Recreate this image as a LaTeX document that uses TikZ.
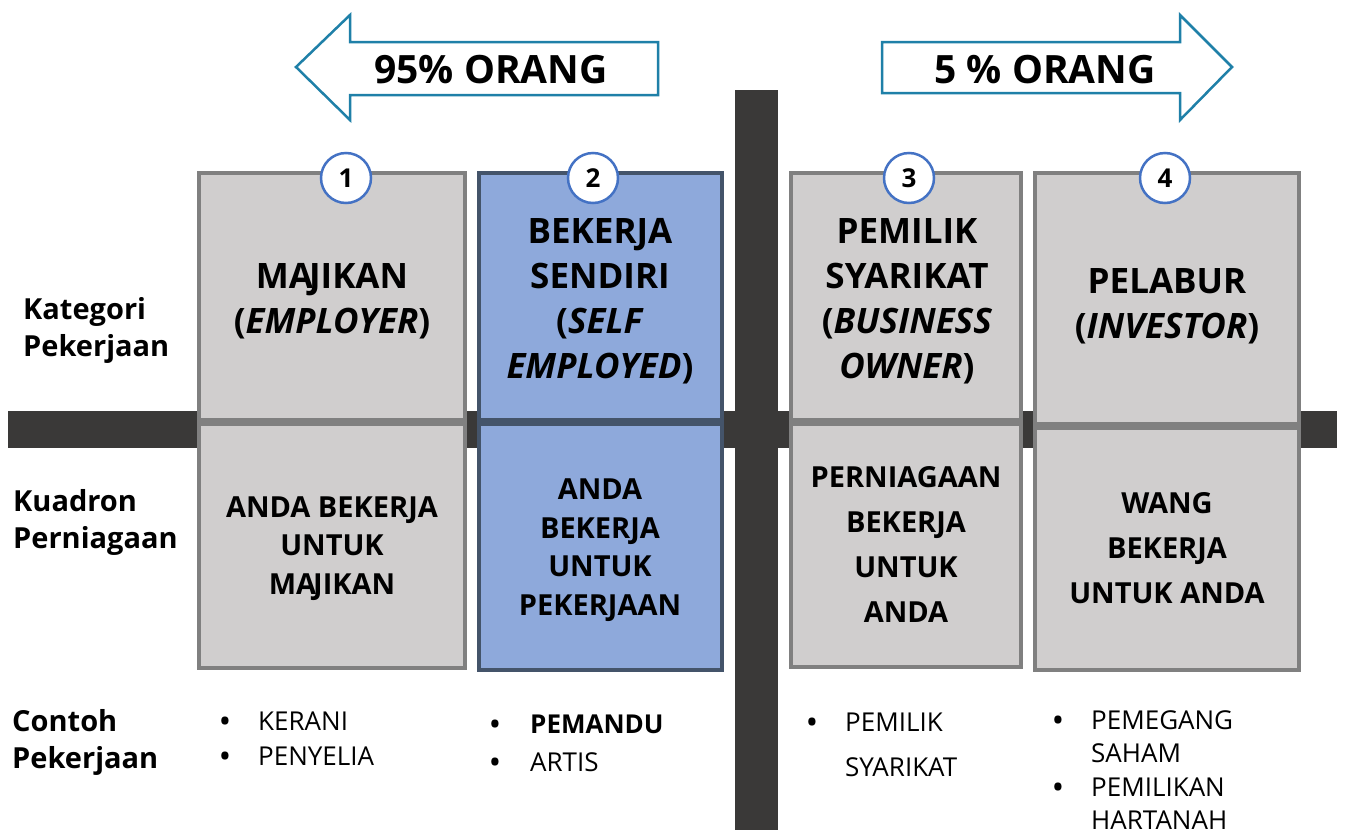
\documentclass[tikz,border=0pt]{standalone}
\usepackage{fontspec}
\setmainfont{Open Sans}
\definecolor{barc}{HTML}{3A3938}
\definecolor{greyfill}{HTML}{D0CECE}
\definecolor{greyline}{HTML}{808080}
\definecolor{bluefill}{HTML}{8EA9DB}
\definecolor{blueline}{HTML}{44546A}
\definecolor{circc}{HTML}{4472C4}
\definecolor{arrc}{HTML}{1F80A8}
\newcommand{\blt}{\textbf{•}}
\begin{document}
\begin{tikzpicture}[x=1pt,y=-1pt,
  greybox/.style={draw=greyline, fill=greyfill, line width=3.5pt},
  bluebox/.style={draw=blueline, fill=bluefill, line width=3.5pt},
  numc/.style={circle, draw=circc, fill=white, line width=2.5pt, minimum size=50pt, inner sep=0pt, font=\fontsize{26}{26}\selectfont\bfseries},
  arrowshape/.style={draw=arrc, fill=white, line width=2.5pt},
  arrtext/.style={inner sep=0pt, anchor=base, font=\fontsize{39}{39}\selectfont\bfseries},
  titletext/.style={inner sep=0pt, anchor=base, align=center, font=\fontsize{35}{45}\selectfont\bfseries},
  quadtext/.style={inner sep=0pt, anchor=base, align=center, font=\fontsize{29}{38.5}\selectfont\bfseries},
  quadtextb/.style={inner sep=0pt, anchor=base, align=center, font=\fontsize{29}{45}\selectfont\bfseries},
  sidetext/.style={inner sep=0pt, anchor=base west, align=left, font=\fontsize{29}{37}\selectfont\bfseries},
  listtext/.style={inner sep=0pt, anchor=base west, font=\fontsize{26}{35}\selectfont},
]
\useasboundingbox (0,0) rectangle (1345,836);
% bars
\fill[barc] (8,411) rectangle (1337,448);
\fill[barc] (735,90) rectangle (778,830);
% arrows
\draw[arrowshape] (296,67) -- (350,15) -- (350,42) -- (658,42) -- (658,95) -- (350,95) -- (350,120) -- cycle;
\node[arrtext] (a95) at (491,83) {95\% ORANG};
\draw[arrowshape] (1232,67) -- (1180,15) -- (1180,42) -- (882,42) -- (882,93) -- (1180,93) -- (1180,120) -- cycle;
\node[arrtext] (a5) at (1045,83) {5 \% ORANG};
% boxes
\draw[greybox] (199,173) rectangle (465,420);
\draw[greybox] (199,424) rectangle (465,668);
\draw[bluebox] (479,173) rectangle (722,420);
\draw[bluebox] (479,424) rectangle (722,670);
\draw[greybox] (791,173) rectangle (1021,420);
\draw[greybox] (791,424) rectangle (1021,667);
\draw[greybox] (1035,173) rectangle (1299,424);
\draw[greybox] (1035,428) rectangle (1299,670);
% numbers
\node[numc] (n1) at (346,178) {1};
\node[numc] (n2) at (593,178) {2};
\node[numc] (n3) at (909,178) {3};
\node[numc] (n4) at (1165,178) {4};
% titles (anchor base = last line)
\node[titletext] (t1) at (332,333) {MA\kern-4ptJIKAN\\(\textit{EMPLOYER})};
\node[titletext] (t2) at (600,378) {BEKERJA\\SENDIRI\\(\textit{SELF}\\\textit{EMPLOYED})};
\node[titletext] (t3) at (907,378) {PEMILIK\\SYARIKAT\\(\textit{BUSINESS}\\\textit{OWNER})};
\node[titletext] (t4) at (1167,338) {PELABUR\\(\textit{INVESTOR})};
% quadrant texts
\node[quadtext] (q1) at (332,594) {ANDA BEKERJA\\UNTUK\\MA\kern-3ptJIKAN};
\node[quadtext] (q2) at (600,615) {ANDA\\BEKERJA\\UNTUK\\PEKERJAAN};
\node[quadtextb] (q3) at (906,622) {PERNIAGAAN\\BEKERJA\\UNTUK\\ANDA};
\node[quadtextb] (q4) at (1167,603) {WANG\\BEKERJA\\UNTUK ANDA};
% side labels
\node[sidetext] (s1) at (23,356) {Kategori\\Pekerjaan};
\node[sidetext] (s2) at (13,548) {Kuadron\\Perniagaan};
\node[sidetext] (s3) at (12,768) {Contoh\\Pekerjaan};
% lists
\node[listtext] (l1) at (220,730) {\fontsize{26}{35}\selectfont\begin{tabular}[t]{@{}p{38pt}@{}l@{}}\blt&KERANI\\\blt&PENYELIA\end{tabular}};
\node[listtext] (l2) at (490,733) {\fontsize{26}{38}\selectfont\begin{tabular}[t]{@{}p{40pt}@{}l@{}}\blt&\textbf{PEMANDU}\\\blt&ARTIS\end{tabular}};
\node[listtext] (l3) at (807,731) {\fontsize{26}{45}\selectfont\begin{tabular}[t]{@{}p{38pt}@{}l@{}}\blt&PEMILIK\\&SYARIKAT\end{tabular}};
\node[listtext] (l4) at (1053,729) {\fontsize{26}{33.5}\selectfont\begin{tabular}[t]{@{}p{38pt}@{}l@{}}\blt&PEMEGANG\\&SAHAM\\\blt&PEMILIKAN\\&HARTANAH\end{tabular}};
\end{tikzpicture}
\end{document}
